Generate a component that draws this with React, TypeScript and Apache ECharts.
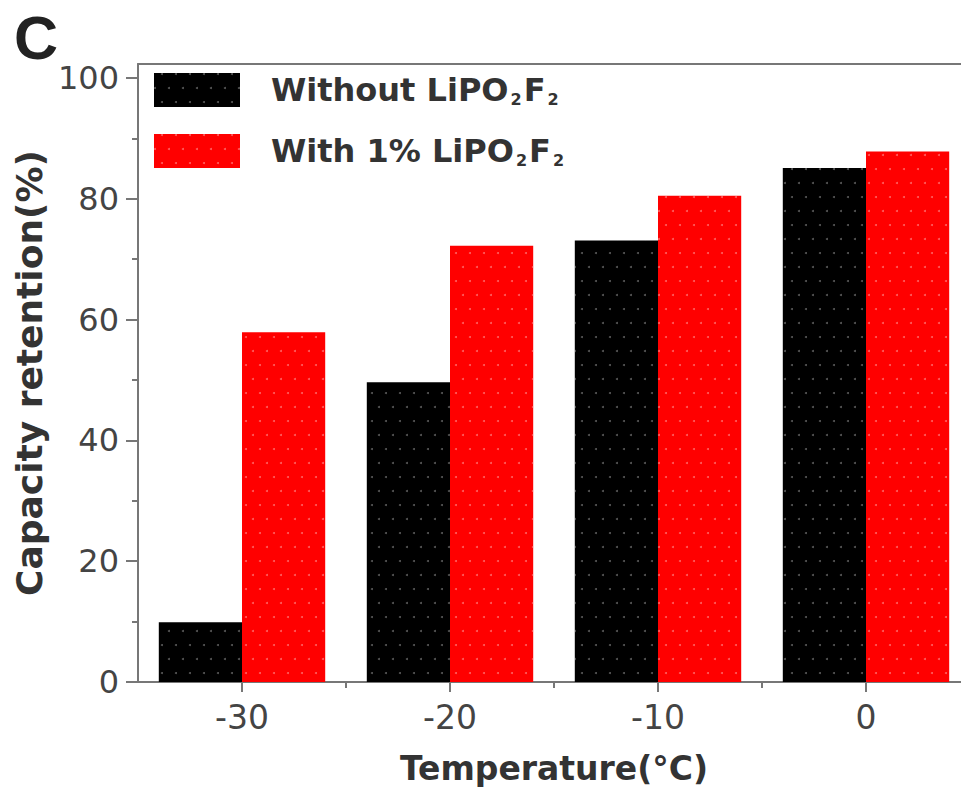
import React, { useEffect, useRef } from "react";
import * as echarts from "echarts";

const categories = ["-30", "-20", "-10", "0"];
const withoutValues = [9.9, 49.6, 73.1, 85.1];
const withValues = [57.9, 72.2, 80.5, 87.8];
const xTickValues = [-30, -20, -10, 0];
const xMinorValues = [-25, -15, -5];
const yLabelValues = [0, 20, 40, 60, 80, 100];
const yMinorValues = [10, 30, 50, 70, 90];
const seriesNames = ["Without LiPO2F2", "With 1% LiPO2F2"];

const FONT = "'DejaVu Sans', 'Liberation Sans', Arial, sans-serif";
const AXIS = "#777";

export default function App() {
  const ref = useRef<HTMLDivElement>(null);
  useEffect(() => {
    if (!ref.current) return;
    const chart = echarts.init(ref.current, null, { renderer: "svg" });
    const legendFmt = (name: string) => {
      const prefix = name.replace("LiPO2F2", "");
      return `{a|${prefix}LiPO}{s|2}{a|F}{s|2}`;
    };
    chart.setOption({
      animation: false,
      backgroundColor: "#fff",
      textStyle: { fontFamily: FONT },
      graphic: [
        {
          type: "text",
          left: 14,
          top: 7,
          style: { text: "C", font: `bold 61px 'Liberation Sans', Arial, sans-serif`, fill: "#222" },
        },
      ],
      legend: {
        orient: "vertical",
        left: 149,
        top: 68,
        itemWidth: 86,
        itemHeight: 34,
        itemGap: 27,
        icon: "rect",
        selectedMode: false,
        data: seriesNames,
        formatter: legendFmt,
        textStyle: {
          padding: [0, 0, 0, 26],
          rich: {
            a: { fontSize: 32, fontWeight: "bold", color: "#333", fontFamily: FONT },
            s: { fontSize: 16, fontWeight: "bold", color: "#333", fontFamily: FONT, padding: [18, 2, 0, 2] },
          },
        },
      },
      grid: { left: 138, right: 0, top: 64, bottom: 110, containLabel: false },
      xAxis: [
        {
          type: "category",
          data: categories,
          position: "bottom",
          axisLine: { onZero: false, lineStyle: { color: AXIS, width: 2 } },
          axisTick: { show: false },
          axisLabel: { fontSize: 33, color: "#444", margin: 19, fontFamily: FONT },
          name: "Temperature(°C)",
          nameLocation: "middle",
          nameGap: 70,
          nameTextStyle: { fontSize: 33, fontWeight: "bold", color: "#333", fontFamily: FONT },
        },
        {
          type: "value",
          min: -35,
          max: 5,
          position: "bottom",
          splitLine: { show: false },
          axisLine: { show: false, onZero: false },
          axisTick: { show: true, length: 10, customValues: xTickValues, lineStyle: { color: AXIS, width: 2 } },
          axisLabel: { show: false },
        },
        {
          type: "value",
          min: -35,
          max: 5,
          position: "bottom",
          splitLine: { show: false },
          axisLine: { show: false, onZero: false },
          axisTick: { show: true, length: 6, customValues: xMinorValues, lineStyle: { color: AXIS, width: 2 } },
          axisLabel: { show: false },
        },
        {
          type: "category",
          data: categories,
          position: "top",
          axisLine: { show: true, onZero: false, lineStyle: { color: AXIS, width: 2 } },
          axisTick: { show: false },
          axisLabel: { show: false },
        },
      ],
      yAxis: [
        {
          type: "value",
          min: 0,
          max: 102.3,
          position: "left",
          splitLine: { show: false },
          axisLine: { show: true, onZero: false, lineStyle: { color: AXIS, width: 2 } },
          axisTick: { show: true, length: 12, customValues: yLabelValues, lineStyle: { color: AXIS, width: 2 } },
          axisLabel: { fontSize: 32, color: "#444", margin: 19, customValues: yLabelValues, fontFamily: FONT },
          name: "Capacity retention(%)",
          nameLocation: "middle",
          nameGap: 66,
          nameTextStyle: { fontSize: 36, fontWeight: "bold", color: "#333", fontFamily: FONT },
        },
        {
          type: "value",
          min: 0,
          max: 102.3,
          position: "left",
          splitLine: { show: false },
          axisLine: { show: false, onZero: false },
          axisTick: { show: true, length: 6, customValues: yMinorValues, lineStyle: { color: AXIS, width: 2 } },
          axisLabel: { show: false },
        },
      ],
      series: [
        {
          name: seriesNames[0],
          type: "bar",
          data: withoutValues,
          barGap: "0%",
          barCategoryGap: "20%",
          itemStyle: {
            color: "#000",
            decal: {
              symbol: "circle",
              symbolSize: 1,
              color: "rgba(255,255,255,0.35)",
              dashArrayX: [[2, 12], [0, 7, 2, 5]],
              dashArrayY: [2, 12],
            },
          },
        },
        {
          name: seriesNames[1],
          type: "bar",
          data: withValues,
          barGap: "0%",
          barCategoryGap: "20%",
          itemStyle: {
            color: "#ff0000",
            decal: {
              symbol: "circle",
              symbolSize: 1,
              color: "rgba(255,160,160,0.6)",
              dashArrayX: [[2, 12], [0, 7, 2, 5]],
              dashArrayY: [2, 12],
            },
          },
        },
      ],
    });
    return () => chart.dispose();
  }, []);
  return (
    <div style={{ position: "absolute", left: 0, top: 0, width: 961, height: 792, overflow: "hidden" }}>
      <div ref={ref} style={{ width: 970, height: 792 }} />
    </div>
  );
}
